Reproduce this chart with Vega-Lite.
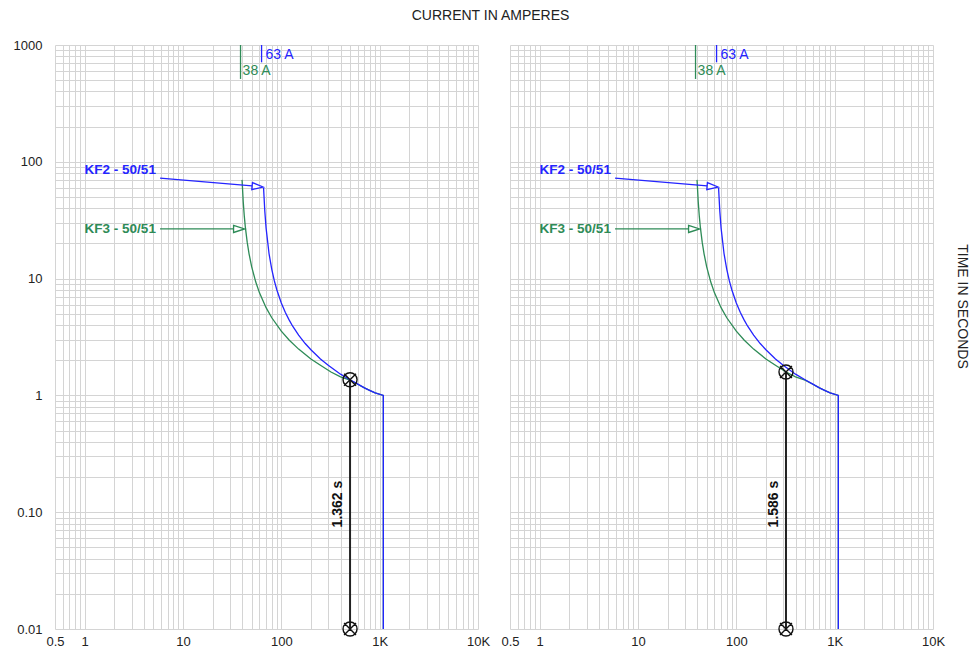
{
  "$schema": "https://vega.github.io/schema/vega-lite/v6.json",
  "padding": {"left": 13, "top": 9, "right": 5, "bottom": 5},
  "background": "white",
  "title": {"text": "CURRENT IN AMPERES", "fontSize": 14, "font": "Liberation Sans", "fontWeight": "normal", "color": "#222222", "offset": 16, "anchor": "middle"},
  "config": {"font": "Liberation Sans", "view": {"stroke": null}},
  "spacing": 32,
  "bounds": "flush",
  "resolve": {"scale": {"x": "independent", "y": "independent"}, "axis": {"x": "independent", "y": "independent"}},
  "datasets": {
    "curves": [
      {"s": "KF2", "o": 1, "I": 66, "t": 60},
      {"s": "KF2", "o": 2, "I": 68, "t": 37.6},
      {"s": "KF2", "o": 3, "I": 70, "t": 27.2},
      {"s": "KF2", "o": 4, "I": 75, "t": 16.4},
      {"s": "KF2", "o": 5, "I": 80, "t": 12.0},
      {"s": "KF2", "o": 6, "I": 85, "t": 9.55},
      {"s": "KF2", "o": 7, "I": 90, "t": 8.02},
      {"s": "KF2", "o": 8, "I": 100, "t": 6.18},
      {"s": "KF2", "o": 9, "I": 110, "t": 5.12},
      {"s": "KF2", "o": 10, "I": 120, "t": 4.43},
      {"s": "KF2", "o": 11, "I": 130, "t": 3.93},
      {"s": "KF2", "o": 12, "I": 150, "t": 3.28},
      {"s": "KF2", "o": 13, "I": 175, "t": 2.78},
      {"s": "KF2", "o": 14, "I": 200, "t": 2.46},
      {"s": "KF2", "o": 15, "I": 250, "t": 2.05},
      {"s": "KF2", "o": 16, "I": 300, "t": 1.81},
      {"s": "KF2", "o": 17, "I": 400, "t": 1.52},
      {"s": "KF2", "o": 18, "I": 500, "t": 1.362},
      {"s": "KF2", "o": 19, "I": 600, "t": 1.25},
      {"s": "KF2", "o": 20, "I": 700, "t": 1.16},
      {"s": "KF2", "o": 21, "I": 800, "t": 1.10},
      {"s": "KF2", "o": 22, "I": 900, "t": 1.05},
      {"s": "KF2", "o": 23, "I": 1090, "t": 1.0},
      {"s": "KF2", "o": 24, "I": 1090, "t": 0.01},
      {"s": "KF3", "o": 1, "I": 39.9, "t": 70},
      {"s": "KF3", "o": 2, "I": 41, "t": 45.6},
      {"s": "KF3", "o": 3, "I": 42, "t": 34.6},
      {"s": "KF3", "o": 4, "I": 43, "t": 28.0},
      {"s": "KF3", "o": 5, "I": 45, "t": 20.5},
      {"s": "KF3", "o": 6, "I": 47, "t": 16.3},
      {"s": "KF3", "o": 7, "I": 50, "t": 12.6},
      {"s": "KF3", "o": 8, "I": 55, "t": 9.34},
      {"s": "KF3", "o": 9, "I": 60, "t": 7.55},
      {"s": "KF3", "o": 10, "I": 70, "t": 5.64},
      {"s": "KF3", "o": 11, "I": 80, "t": 4.62},
      {"s": "KF3", "o": 12, "I": 100, "t": 3.55},
      {"s": "KF3", "o": 13, "I": 120, "t": 2.98},
      {"s": "KF3", "o": 14, "I": 150, "t": 2.49},
      {"s": "KF3", "o": 15, "I": 200, "t": 2.05},
      {"s": "KF3", "o": 16, "I": 250, "t": 1.81},
      {"s": "KF3", "o": 17, "I": 320, "t": 1.586},
      {"s": "KF3", "o": 18, "I": 400, "t": 1.44},
      {"s": "KF3", "o": 19, "I": 500, "t": 1.35},
      {"s": "KF3", "o": 20, "I": 600, "t": 1.245},
      {"s": "KF3", "o": 21, "I": 700, "t": 1.16},
      {"s": "KF3", "o": 22, "I": 800, "t": 1.10},
      {"s": "KF3", "o": 23, "I": 900, "t": 1.05},
      {"s": "KF3", "o": 24, "I": 1090, "t": 1.0},
      {"s": "KF3", "o": 25, "I": 1090, "t": 0.01}
    ],
    "pickups": [
      {"s": "KF2", "I": 63, "t": 1000, "t2": 711},
      {"s": "KF3", "I": 38.5, "t": 1000, "t2": 512}
    ],
    "pickupLabels": [
      {"s": "KF2", "I": 69, "t": 821, "label": "63 A"},
      {"s": "KF3", "I": 40.4, "t": 599, "label": "38 A"}
    ],
    "curveLabels": [
      {"s": "KF2", "I": 1.0, "t": 85, "label": "KF2 - 50/51"},
      {"s": "KF3", "I": 1.0, "t": 26.6, "label": "KF3 - 50/51"}
    ],
    "leaders": [
      {"s": "KF2", "o": 1, "I": 5.85, "t": 72.6},
      {"s": "KF2", "o": 2, "I": 50.5, "t": 62.1},
      {"s": "KF3", "o": 1, "I": 5.85, "t": 26.6},
      {"s": "KF3", "o": 2, "I": 32.7, "t": 26.6}
    ],
    "heads": [
      {"s": "KF2", "I": 57.4, "t": 61.4},
      {"s": "KF3", "I": 37.2, "t": 26.6}
    ],
    "markers": [
      {"p": "L", "I": 500, "t": 1.362},
      {"p": "L", "I": 500, "t": 0.01},
      {"p": "R", "I": 320, "t": 1.586},
      {"p": "R", "I": 320, "t": 0.01}
    ],
    "drops": [
      {"p": "L", "I": 500, "t": 0.01, "t2": 1.362},
      {"p": "R", "I": 320, "t": 0.01, "t2": 1.586}
    ],
    "timeLabels": [
      {"p": "L", "I": 378, "t": 0.1175, "label": "1.362 s"},
      {"p": "R", "I": 241, "t": 0.1175, "label": "1.586 s"}
    ]
  },
  "hconcat": [
    {
      "width": 423,
      "height": 584,
      "encoding": {
        "x": {"field": "I", "type": "quantitative", "scale": {"type": "log", "domain": [0.5, 10000], "nice": false},
          "axis": {"title": null, "values": [0.5,0.6,0.7,0.8,0.9,1,2,3,4,5,6,7,8,9,10,20,30,40,50,60,70,80,90,100,200,300,400,500,600,700,800,900,1000,2000,3000,4000,5000,6000,7000,8000,9000,10000],
            "labelExpr": "datum.value==0.5?'0.5':datum.value==1?'1':datum.value==10?'10':datum.value==100?'100':datum.value==1000?'1K':datum.value==10000?'10K':''",
            "grid": true, "gridColor": "#d4d4d4", "gridWidth": 1, "domain": false, "ticks": false, "tickSize": 0, "labelPadding": 6,
            "labelFontSize": 13, "labelColor": "#222222", "labelOverlap": false, "labelFlush": false, "labelBound": false}},
        "y": {"field": "t", "type": "quantitative", "scale": {"type": "log", "domain": [0.01, 1000], "nice": false},
          "axis": {"title": null, "values": [0.01,0.02,0.03,0.04,0.05,0.06,0.07,0.08,0.09,0.1,0.2,0.3,0.4,0.5,0.6,0.7,0.8,0.9,1,2,3,4,5,6,7,8,9,10,20,30,40,50,60,70,80,90,100,200,300,400,500,600,700,800,900,1000],
            "labelExpr": "datum.value==0.01?'0.01':datum.value==0.1?'0.10':datum.value==1?'1':datum.value==10?'10':datum.value==100?'100':datum.value==1000?'1000':''",
            "grid": true, "gridColor": "#d4d4d4", "gridWidth": 1, "domain": false, "ticks": false, "tickSize": 0, "labelPadding": 13,
            "labelFontSize": 13, "labelColor": "#222222", "labelOverlap": false, "labelFlush": false, "labelBound": false}}
      },
      "layer": [
        {"data": {"name": "curves"}, "transform": [{"filter": "datum.s=='KF3'"}], "mark": {"type": "line", "color": "#2e8b57", "strokeWidth": 1.3, "clip": true}, "encoding": {"order": {"field": "o", "type": "quantitative"}}},
        {"data": {"name": "curves"}, "transform": [{"filter": "datum.s=='KF2'"}], "mark": {"type": "line", "color": "#2424ff", "strokeWidth": 1.3, "clip": true}, "encoding": {"order": {"field": "o", "type": "quantitative"}}},
        {"data": {"name": "pickups"}, "mark": {"type": "rule", "strokeWidth": 1.3}, "encoding": {"y2": {"field": "t2"}, "color": {"field": "s", "type": "nominal", "scale": {"domain": ["KF2", "KF3"], "range": ["#2424ff", "#2e8b57"]}, "legend": null}}},
        {"data": {"name": "pickupLabels"}, "mark": {"type": "text", "align": "left", "baseline": "middle", "fontSize": 14}, "encoding": {"text": {"field": "label"}, "color": {"field": "s", "type": "nominal", "legend": null}}},
        {"data": {"name": "leaders"}, "mark": {"type": "line", "strokeWidth": 1.3}, "encoding": {"order": {"field": "o", "type": "quantitative"}, "color": {"field": "s", "type": "nominal", "legend": null}}},
        {"data": {"name": "heads"}, "transform": [{"filter": "datum.s=='KF2'"}], "mark": {"type": "point", "shape": "M-1,-0.64L1,0L-1,0.64Z", "size": 121, "angle": 5, "filled": false, "color": "#2424ff", "strokeWidth": 1.3, "opacity": 1}},
        {"data": {"name": "heads"}, "transform": [{"filter": "datum.s=='KF3'"}], "mark": {"type": "point", "shape": "M-1,-0.64L1,0L-1,0.64Z", "size": 121, "angle": 0, "filled": false, "color": "#2e8b57", "strokeWidth": 1.3, "opacity": 1}},
        {"data": {"name": "curveLabels"}, "mark": {"type": "text", "align": "left", "baseline": "middle", "fontSize": 13.5, "fontWeight": "bold"}, "encoding": {"text": {"field": "label"}, "color": {"field": "s", "type": "nominal", "legend": null}}},
        {"data": {"name": "drops"}, "transform": [{"filter": "datum.p=='L'"}], "mark": {"type": "rule", "color": "#222222", "strokeWidth": 2}, "encoding": {"y2": {"field": "t2"}}},
        {"data": {"name": "markers"}, "transform": [{"filter": "datum.p=='L'"}], "mark": {"type": "point", "shape": "M1,0A1,1,0,1,1,-1,0A1,1,0,1,1,1,0ZM-0.85,-0.85L0.85,0.85M-0.85,0.85L0.85,-0.85", "size": 196, "filled": false, "color": "#111111", "strokeWidth": 1.4, "opacity": 1, "clip": false}},
        {"data": {"name": "timeLabels"}, "transform": [{"filter": "datum.p=='L'"}], "mark": {"type": "text", "angle": 270, "align": "center", "baseline": "middle", "fontSize": 14, "fontWeight": "bold", "color": "#111111"}, "encoding": {"text": {"field": "label"}}}
      ]
    },
    {
      "width": 423,
      "height": 584,
      "encoding": {
        "x": {"field": "I", "type": "quantitative", "scale": {"type": "log", "domain": [0.5, 10000], "nice": false},
          "axis": {"title": null, "values": [0.5,0.6,0.7,0.8,0.9,1,2,3,4,5,6,7,8,9,10,20,30,40,50,60,70,80,90,100,200,300,400,500,600,700,800,900,1000,2000,3000,4000,5000,6000,7000,8000,9000,10000],
            "labelExpr": "datum.value==0.5?'0.5':datum.value==1?'1':datum.value==10?'10':datum.value==100?'100':datum.value==1000?'1K':datum.value==10000?'10K':''",
            "grid": true, "gridColor": "#d4d4d4", "gridWidth": 1, "domain": false, "ticks": false, "tickSize": 0, "labelPadding": 6,
            "labelFontSize": 13, "labelColor": "#222222", "labelOverlap": false, "labelFlush": false, "labelBound": false}},
        "y": {"field": "t", "type": "quantitative", "scale": {"type": "log", "domain": [0.01, 1000], "nice": false},
          "axis": {"orient": "right", "title": "TIME IN SECONDS", "titleAngle": 90, "titleFontSize": 14, "titleFontWeight": "normal", "titleColor": "#222222", "titlePadding": 21, "titleY": 261,
            "values": [0.01,0.02,0.03,0.04,0.05,0.06,0.07,0.08,0.09,0.1,0.2,0.3,0.4,0.5,0.6,0.7,0.8,0.9,1,2,3,4,5,6,7,8,9,10,20,30,40,50,60,70,80,90,100,200,300,400,500,600,700,800,900,1000],
            "labels": false, "grid": true, "gridColor": "#d4d4d4", "gridWidth": 1, "domain": false, "ticks": false, "tickSize": 0}}
      },
      "layer": [
        {"data": {"name": "curves"}, "transform": [{"filter": "datum.s=='KF3'"}], "mark": {"type": "line", "color": "#2e8b57", "strokeWidth": 1.3, "clip": true}, "encoding": {"order": {"field": "o", "type": "quantitative"}}},
        {"data": {"name": "curves"}, "transform": [{"filter": "datum.s=='KF2'"}], "mark": {"type": "line", "color": "#2424ff", "strokeWidth": 1.3, "clip": true}, "encoding": {"order": {"field": "o", "type": "quantitative"}}},
        {"data": {"name": "pickups"}, "mark": {"type": "rule", "strokeWidth": 1.3}, "encoding": {"y2": {"field": "t2"}, "color": {"field": "s", "type": "nominal", "scale": {"domain": ["KF2", "KF3"], "range": ["#2424ff", "#2e8b57"]}, "legend": null}}},
        {"data": {"name": "pickupLabels"}, "mark": {"type": "text", "align": "left", "baseline": "middle", "fontSize": 14}, "encoding": {"text": {"field": "label"}, "color": {"field": "s", "type": "nominal", "legend": null}}},
        {"data": {"name": "leaders"}, "mark": {"type": "line", "strokeWidth": 1.3}, "encoding": {"order": {"field": "o", "type": "quantitative"}, "color": {"field": "s", "type": "nominal", "legend": null}}},
        {"data": {"name": "heads"}, "transform": [{"filter": "datum.s=='KF2'"}], "mark": {"type": "point", "shape": "M-1,-0.64L1,0L-1,0.64Z", "size": 121, "angle": 5, "filled": false, "color": "#2424ff", "strokeWidth": 1.3, "opacity": 1}},
        {"data": {"name": "heads"}, "transform": [{"filter": "datum.s=='KF3'"}], "mark": {"type": "point", "shape": "M-1,-0.64L1,0L-1,0.64Z", "size": 121, "angle": 0, "filled": false, "color": "#2e8b57", "strokeWidth": 1.3, "opacity": 1}},
        {"data": {"name": "curveLabels"}, "mark": {"type": "text", "align": "left", "baseline": "middle", "fontSize": 13.5, "fontWeight": "bold"}, "encoding": {"text": {"field": "label"}, "color": {"field": "s", "type": "nominal", "legend": null}}},
        {"data": {"name": "drops"}, "transform": [{"filter": "datum.p=='R'"}], "mark": {"type": "rule", "color": "#222222", "strokeWidth": 2}, "encoding": {"y2": {"field": "t2"}}},
        {"data": {"name": "markers"}, "transform": [{"filter": "datum.p=='R'"}], "mark": {"type": "point", "shape": "M1,0A1,1,0,1,1,-1,0A1,1,0,1,1,1,0ZM-0.85,-0.85L0.85,0.85M-0.85,0.85L0.85,-0.85", "size": 196, "filled": false, "color": "#111111", "strokeWidth": 1.4, "opacity": 1, "clip": false}},
        {"data": {"name": "timeLabels"}, "transform": [{"filter": "datum.p=='R'"}], "mark": {"type": "text", "angle": 270, "align": "center", "baseline": "middle", "fontSize": 14, "fontWeight": "bold", "color": "#111111"}, "encoding": {"text": {"field": "label"}}}
      ]
    }
  ]
}
